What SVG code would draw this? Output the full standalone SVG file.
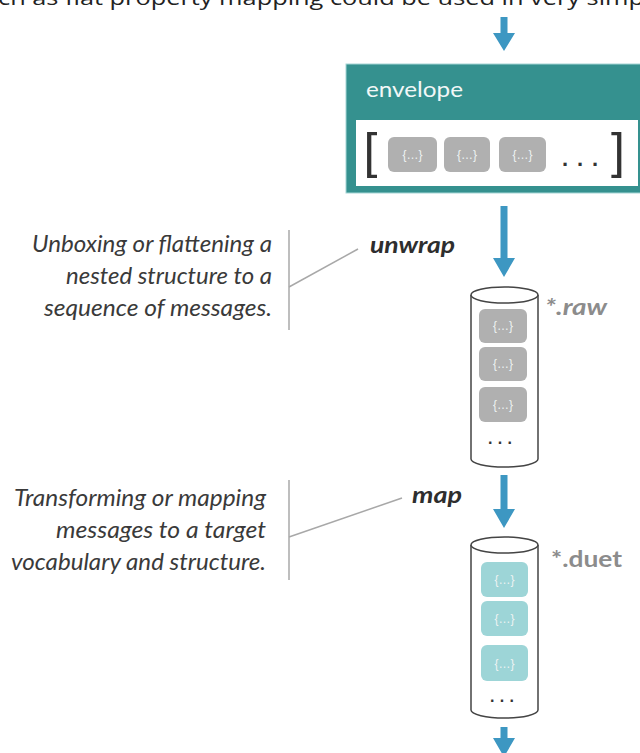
<svg xmlns="http://www.w3.org/2000/svg" width="640" height="753" viewBox="0 0 640 753">
<style>
.arrow{fill:#3d97c2}
.note{font-family:Lato,"Open Sans",sans-serif;font-style:italic;font-size:23px;fill:#3a3a3a;text-anchor:end}
.op{font-family:Lato,"Open Sans",sans-serif;font-style:italic;font-weight:bold;font-size:22px;fill:#2e2e2e}
.tag{font-family:Lato,"Open Sans",sans-serif;font-weight:bold;font-size:22px;fill:#8c8c8c}
.lead{stroke:#a8a8a8;stroke-width:1.5;fill:none}
.cyl{fill:#fff;stroke:#444;stroke-width:1.5}
.gbox{fill:#b0b0b0}
.tbox{fill:#9dd5d7}
.brace{font-family:"Liberation Sans",sans-serif;font-size:12px;fill:#eef3f3;text-anchor:middle}
.dots{font-family:"Liberation Sans",sans-serif;font-weight:bold;fill:#333;text-anchor:middle}
</style>
<rect width="640" height="753" fill="#fff"/>
<text x="-2" y="5" font-family="'Open Sans',sans-serif" font-size="20" fill="#222" textLength="646" lengthAdjust="spacingAndGlyphs">ch as flat property mapping could be used in very simp</text>

<g id="connectors">
<polygon class="arrow" points="500.5,17 507.5,17 507.5,33 515,33 504,51 493,33 500.5,33"/>
<polygon class="arrow" points="500.5,206 507.5,206 507.5,258 515,258 504,277 493,258 500.5,258"/>
<polygon class="arrow" points="500.5,475 507.5,475 507.5,509 515,509 504,528 493,509 500.5,509"/>
<polygon class="arrow" points="500.5,727 507.5,727 507.5,738 515,738 504,757 493,738 500.5,738"/>
<line class="lead" x1="289" y1="230" x2="289" y2="330"/>
<line class="lead" x1="289" y1="287" x2="358" y2="249"/>
<line class="lead" x1="289" y1="480" x2="289" y2="580"/>
<line class="lead" x1="289" y1="537" x2="402" y2="498"/>
</g>

<g id="envelope">
<rect x="346" y="64" width="300" height="129" fill="#35918f" stroke="#a6d6d6" stroke-width="1"/>
<text x="366" y="97" font-family="Lato,'Open Sans',sans-serif" font-size="22" fill="#f2f7f7" textLength="97" lengthAdjust="spacingAndGlyphs">envelope</text>
<rect x="356" y="120" width="282" height="66" fill="#fff"/>
<text x="363.5" y="168" font-family="'Liberation Sans',sans-serif" font-size="50" fill="#333">[</text>
<text x="625" y="168" font-family="'Liberation Sans',sans-serif" font-size="50" fill="#333" text-anchor="end">]</text>
<rect class="gbox" x="388" y="137" width="49" height="35" rx="6"/>
<rect class="gbox" x="444" y="137" width="46" height="35" rx="6"/>
<rect class="gbox" x="499" y="137" width="47" height="35" rx="6"/>
<text class="brace" x="412.5" y="159">{…}</text>
<text class="brace" x="467" y="159">{…}</text>
<text class="brace" x="522.5" y="159">{…}</text>
<text class="dots" x="580" y="166" font-size="22" textLength="36" lengthAdjust="spacing">...</text>
</g>

<g id="unwrap-note">
<text class="note" x="272" y="252" textLength="240" lengthAdjust="spacingAndGlyphs">Unboxing or flattening a</text>
<text class="note" x="272" y="284" textLength="206" lengthAdjust="spacingAndGlyphs">nested structure to a</text>
<text class="note" x="272" y="316" textLength="228" lengthAdjust="spacingAndGlyphs">sequence of messages.</text>
<text class="op" x="370" y="253" textLength="85" lengthAdjust="spacingAndGlyphs">unwrap</text>
</g>

<g id="raw">
<path class="cyl" d="M471,295 L471,459 A33.5,8 0 0 0 538,459 L538,295"/>
<ellipse class="cyl" cx="504.5" cy="295" rx="33.5" ry="8"/>
<rect class="gbox" x="479" y="309" width="48" height="34" rx="6"/>
<rect class="gbox" x="479" y="347" width="48" height="34" rx="6"/>
<rect class="gbox" x="479" y="387" width="48" height="35" rx="6"/>
<text class="brace" x="503" y="330">{…}</text>
<text class="brace" x="503" y="368">{…}</text>
<text class="brace" x="503" y="409">{…}</text>
<text class="dots" x="500" y="444" font-size="16" textLength="24" lengthAdjust="spacing">...</text>
<text class="tag" x="545" y="315" font-style="italic" textLength="62" lengthAdjust="spacingAndGlyphs">*.raw</text>
</g>

<g id="map-note">
<text class="note" x="266" y="506" textLength="252" lengthAdjust="spacingAndGlyphs">Transforming or  mapping</text>
<text class="note" x="266" y="538" textLength="210" lengthAdjust="spacingAndGlyphs">messages to a target</text>
<text class="note" x="266" y="570" textLength="255" lengthAdjust="spacingAndGlyphs">vocabulary and structure.</text>
<text class="op" x="412" y="503" textLength="50" lengthAdjust="spacingAndGlyphs">map</text>
</g>

<g id="duet">
<path class="cyl" d="M471,545 L471,710 A33.5,8 0 0 0 538,710 L538,545"/>
<ellipse class="cyl" cx="504.5" cy="545" rx="33.5" ry="8"/>
<rect class="tbox" x="481" y="562" width="47" height="35" rx="6"/>
<rect class="tbox" x="481" y="601" width="47" height="35" rx="6"/>
<rect class="tbox" x="481" y="645" width="47" height="36" rx="6"/>
<text class="brace" x="504.5" y="584">{…}</text>
<text class="brace" x="504.5" y="623">{…}</text>
<text class="brace" x="504.5" y="668">{…}</text>
<text class="dots" x="502" y="702" font-size="16" textLength="24" lengthAdjust="spacing">...</text>
<text class="tag" x="551" y="567" textLength="71" lengthAdjust="spacingAndGlyphs">*.duet</text>
</g>
</svg>
